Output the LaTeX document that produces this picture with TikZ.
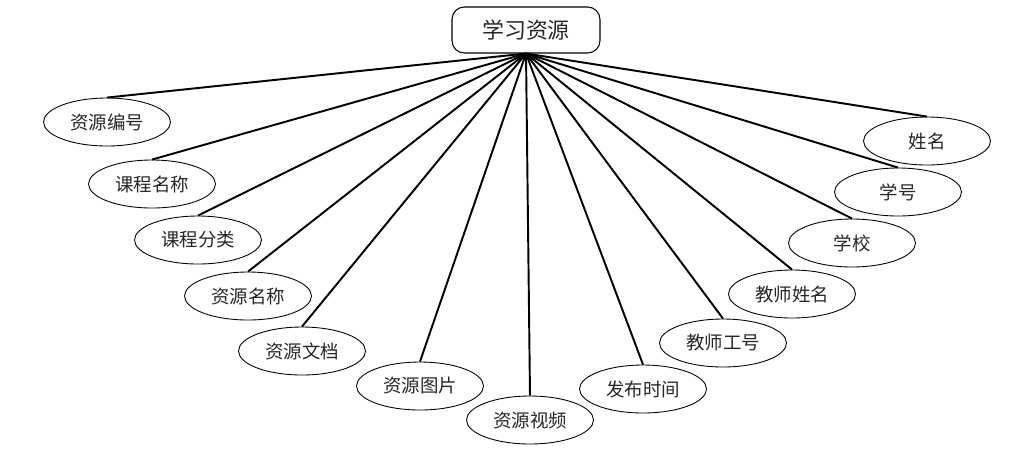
\documentclass[tikz,border=0pt]{standalone}
\usepackage{fontspec}
\newfontfamily\cjk{Noto Sans CJK SC}
\usetikzlibrary{shapes.geometric}

\begin{document}
\begin{tikzpicture}[x=0.02cm,y=-0.02cm,
  attr/.style={draw,ellipse,line width=0.5pt,minimum width=2.54cm,minimum height=0.96cm,inner sep=0pt,text=black!85,font=\cjk\fontsize{10.5}{11}\selectfont},
  entity/.style={draw,rounded corners=7pt,line width=0.6pt,minimum width=2.96cm,minimum height=0.92cm,text=black!85,font=\cjk\fontsize{12.5}{13}\selectfont}]
\useasboundingbox (0,0) rectangle (1026,461);
\node[entity] (res) at (526,30) {学习资源};
% attributes, left to right
\node[attr] (bianhao) at (107,122) {资源编号};
\node[attr] (kcmc) at (152,184) {课程名称};
\node[attr] (kcfl) at (198,240) {课程分类};
\node[attr] (zymc) at (248,296) {资源名称};
\node[attr] (wendang) at (302,351) {资源文档};
\node[attr] (tupian) at (420,386) {资源图片};
\node[attr] (shipin) at (530,420) {资源视频};
\node[attr] (shijian) at (643,389) {发布时间};
\node[attr] (gonghao) at (723,343) {教师工号};
\node[attr] (jsxm) at (792,294) {教师姓名};
\node[attr] (xuexiao) at (852,243) {学校};
\node[attr] (xuehao) at (898,192) {学号};
\node[attr] (xingming) at (927,141) {姓名};
\foreach \n in {bianhao,kcmc,kcfl,zymc,wendang,tupian,shipin,shijian,gonghao,jsxm,xuexiao,xuehao,xingming}
  \draw[line width=1.1pt] (res.south) -- (\n.north);
\end{tikzpicture}
\end{document}
